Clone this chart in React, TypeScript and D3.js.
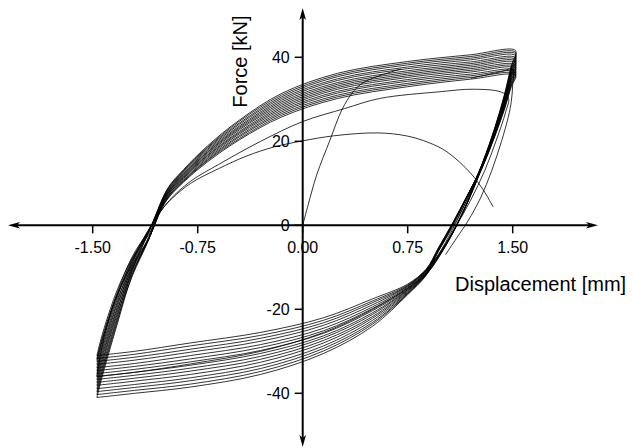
import React from "react";
import * as d3 from "d3";

// ---- Data (displacement in mm, force in kN) ----
const X_TICKS = [-1.5, -0.75, 0, 0.75, 1.5];
const X_TICK_LABELS = ["-1.50", "-0.75", "0.00", "0.75", "1.50"];
const Y_TICKS = [-40, -20, 0, 20, 40];
const Y_TICK_LABELS = ["-40", "-20", "0", "20", "40"];

// loading (upper) branch displacement grid
const UX = [-1.47, -1.44, -1.39, -1.32, -1.22, -1.1, -0.97, -0.85, -0.68, -0.45, -0.15, 0.25, 0.75, 1.2, 1.52];
const UPPER = [
  [-31, -27, -21.5, -15, -8, -2.2, 6, 10.3, 15.1, 20.4, 25.8, 30.2, 33, 34.8, 35.7],
  [-31.7, -27.7, -22.2, -15.6, -7.6, -1.2, 6.2, 10.5, 15.4, 20.7, 26.2, 30.6, 33.4, 35.2, 36.1],
  [-32.4, -28.4, -22.8, -16.1, -9.5, -3.1, 6.4, 10.7, 15.6, 21.1, 26.6, 31, 33.8, 35.6, 36.5],
  [-33.1, -29.1, -23.5, -16.7, -8.1, -1.3, 6.5, 10.9, 15.9, 21.4, 27, 31.5, 34.3, 36, 36.9],
  [-33.9, -29.9, -24.3, -17.3, -10.1, -3.1, 6.7, 11.2, 16.2, 21.8, 27.4, 31.9, 34.7, 36.5, 37.4],
  [-34.6, -30.6, -24.9, -17.9, -8.7, -1.4, 6.9, 11.4, 16.5, 22.1, 27.8, 32.4, 35.2, 36.9, 37.8],
  [-35.3, -31.3, -25.6, -18.4, -10.6, -3.2, 7.1, 11.6, 16.7, 22.4, 28.2, 32.8, 35.6, 37.3, 38.2],
  [-36, -32, -26.3, -19, -9.3, -1.5, 7.3, 11.8, 17, 22.8, 28.6, 33.2, 36, 37.7, 38.7],
  [-36.7, -32.7, -26.9, -19.6, -11.2, -3.3, 7.4, 12, 17.3, 23.1, 29, 33.6, 36.4, 38.1, 39.1],
  [-37.4, -33.4, -27.6, -20.1, -9.9, -1.5, 7.6, 12.2, 17.5, 23.4, 29.4, 34, 36.8, 38.5, 39.5],
  [-38.1, -34.1, -28.2, -20.7, -11.7, -3.4, 7.8, 12.4, 17.8, 23.7, 29.8, 34.5, 37.3, 38.9, 39.9],
  [-38.9, -34.9, -29, -21.3, -10.5, -1.6, 8, 12.7, 18.1, 24.1, 30.2, 34.9, 37.7, 39.4, 40.4],
  [-39.6, -35.6, -29.7, -21.9, -12.3, -3.4, 8.2, 12.9, 18.4, 24.4, 30.6, 35.4, 38.2, 39.8, 40.8],
  [-40.3, -36.3, -30.3, -22.4, -11, -1.7, 8.3, 13.1, 18.6, 24.8, 31, 35.8, 38.6, 40.2, 41.2],
  [-41, -37, -31, -23, -12, -2.7, 8.5, 13.3, 18.9, 25.1, 31.4, 36.2, 39, 40.6, 41.6],
];

// unloading + reversed loading (lower) branch displacement grid
const LX = [1.52, 1.49, 1.44, 1.37, 1.28, 1.18, 1.07, 0.97, 0.88, 0.75, 0.5, 0.15, -0.3, -0.8, -1.2, -1.47];
const LOWER = [
  [35.7, 33, 27.5, 21, 13.5, 6.5, -0.5, -6, -10.5, -14, -17.5, -22, -25.5, -28, -30, -31],
  [36.1, 33.4, 27.7, 21.1, 13.6, 7.4, 0.5, -5.3, -10.6, -14.2, -18, -22.6, -26.2, -28.7, -30.7, -31.7],
  [36.5, 33.7, 28, 21.3, 13.6, 5.6, -1.6, -7, -10.7, -14.4, -18.4, -23.2, -26.9, -29.5, -31.4, -32.4],
  [36.9, 34.1, 28.2, 21.4, 13.7, 7.3, 0.4, -5.4, -10.8, -14.5, -18.9, -23.8, -27.6, -30.2, -32.1, -33.1],
  [37.4, 34.5, 28.5, 21.6, 13.8, 5.7, -1.7, -7.1, -10.9, -14.7, -19.4, -24.5, -28.4, -31, -32.9, -33.9],
  [37.8, 34.8, 28.8, 21.7, 13.9, 7.3, 0.3, -5.6, -11, -14.9, -19.8, -25.1, -29.1, -31.8, -33.6, -34.6],
  [38.2, 35.2, 29, 21.9, 13.9, 5.6, -1.8, -7.2, -11.1, -15.1, -20.3, -25.7, -29.8, -32.5, -34.3, -35.3],
  [38.7, 35.5, 29.3, 22, 14, 7.2, 0.2, -5.7, -11.3, -15.3, -20.8, -26.3, -30.5, -33.3, -35, -36],
  [39.1, 35.9, 29.5, 22.1, 14.1, 5.7, -1.9, -7.4, -11.4, -15.4, -21.2, -26.8, -31.2, -34, -35.7, -36.7],
  [39.5, 36.2, 29.7, 22.3, 14.1, 7.2, 0.1, -5.8, -11.5, -15.6, -21.7, -27.4, -31.9, -34.7, -36.4, -37.4],
  [39.9, 36.6, 30, 22.4, 14.2, 5.8, -2, -7.5, -11.6, -15.8, -22.1, -28, -32.6, -35.5, -37.1, -38.1],
  [40.4, 37, 30.3, 22.6, 14.3, 7.1, 0, -6, -11.7, -16, -22.6, -28.7, -33.4, -36.3, -37.9, -38.9],
  [40.8, 37.3, 30.5, 22.7, 14.4, 5.8, -2, -7.7, -11.8, -16.2, -23.1, -29.3, -34.1, -37, -38.6, -39.6],
  [41.2, 37.7, 30.8, 22.9, 14.4, 7.1, -0.1, -6.2, -11.9, -16.3, -23.5, -29.9, -34.8, -37.8, -39.3, -40.3],
  [41.6, 38, 31, 23, 14.5, 6.5, -1, -7, -12, -16.5, -24, -30.5, -35.5, -38.5, -40, -41],
];

// initial (virgin) loading curve
const INIT_D = [0, 0.04, 0.1, 0.195, 0.28, 0.36, 0.43, 0.53, 0.7];
const INIT_F = [0, 5, 12, 20.3, 27.5, 31.8, 33.9, 35.4, 37.2];

// degraded cycle (upper branch near 31 kN)
const DEG_D = [-1.47, -1.42, -1.34, -1.22, -1.08, -0.95, -0.8, -0.6, -0.3, 0, 0.3, 0.55, 0.98, 1.22, 1.42, 1.47, 1.45, 1.38, 1.3, 1.2, 1.1, 1.0, 0.9, 0.75, 0.5, 0.15, -0.3, -0.8, -1.2, -1.47];
const DEG_F = [-32, -26, -18, -9, 0, 6, 10.5, 14.5, 20, 24.7, 27.8, 30.2, 31.8, 32.4, 31.7, 30.3, 27, 20, 13, 6, 0, -6, -11, -15, -20, -25.5, -30, -33, -35, -36];

// final cycle (strength drop, ends near 4 kN)
const FIN_D = [-1.47, -1.44, -1.39, -1.32, -1.22, -1.1, -1.0, -0.93, -0.8, -0.6, -0.4, -0.2, 0, 0.22, 0.53, 0.74, 0.9, 1.03, 1.2, 1.29, 1.36];
const FIN_F = [-36, -30, -23, -16, -8.5, -1, 4, 6.5, 10, 13.5, 16.5, 18.7, 20.1, 21.3, 22, 21.3, 19.7, 17.5, 12.4, 8.4, 4.4];

// separate unloading trace at the right edge
const EDGE_D = [1.2, 1.42, 1.5, 1.5, 1.49, 1.47, 1.42, 1.35, 1.27, 1.18, 1.1, 1.02];
const EDGE_F = [35.0, 36.6, 37.2, 33.5, 29.5, 26, 20, 13, 6.5, 1, -3, -7];

const W = 633;
const H = 448;

export default function App() {
  const x = d3.scaleLinear().domain([-1.5, 1.5]).range([92.7, 512.7]);
  const y = d3.scaleLinear().domain([-40, 40]).range([393.3, 57.3]);
  const x0 = x(0);
  const y0 = y(0);

  const line = d3
    .line<[number, number]>()
    .x((p) => x(p[0]))
    .y((p) => y(p[1]))
    .curve(d3.curveCatmullRom.alpha(0.5));

  const cycles: string[] = UPPER.map((up, k) => {
    const pts: [number, number][] = UX.map((d, i) => [d, up[i]] as [number, number]);
    LX.forEach((d, i) => {
      if (i > 0) pts.push([d, LOWER[k][i]]);
    });
    return line(pts) || "";
  });

  const zipPts = (ds: number[], fs: number[]) => ds.map((d, i) => [d, fs[i]] as [number, number]);

  const font = "'Liberation Sans', Arial, Helvetica, sans-serif";
  const stroke = "#000";

  const xL = 8, xR = 598, yT = 8, yB = 447;
  const ah = 12, aw = 3.3;

  return (
    <svg
      width={W}
      height={H}
      style={{ position: "absolute", left: 0, top: 0, background: "#fff" }}
      fontFamily={font}
    >
      <rect x={0} y={0} width={W} height={H} fill="#fff" />
      <g fill="none" stroke={stroke} strokeWidth={0.8}>
        {cycles.map((p, i) => (
          <path key={i} d={p} />
        ))}
        <path d={line(zipPts(INIT_D, INIT_F)) || ""} />
        <path d={line(zipPts(DEG_D, DEG_F)) || ""} />
        <path d={line(zipPts(FIN_D, FIN_F)) || ""} />
        <path d={line(zipPts(EDGE_D, EDGE_F)) || ""} />
      </g>

      {/* tick labels */}
      <g fontSize={16} fill="#000">
        {X_TICKS.map((t, i) => (
          <text key={"xl" + i} x={x(t)} y={y0 + 28} textAnchor="middle">
            {X_TICK_LABELS[i]}
          </text>
        ))}
        {Y_TICKS.map((t, i) => (
          <text key={"yl" + i} x={x0 - 13} y={y(t) + 5.7} textAnchor="end">
            {Y_TICK_LABELS[i]}
          </text>
        ))}
      </g>

      {/* axes */}
      <g stroke="#000" strokeWidth={2}>
        <line x1={xL + 6} y1={y0} x2={xR - 6} y2={y0} />
        <line x1={x0} y1={yT + 6} x2={x0} y2={yB - 6} />
      </g>
      <g stroke="#000" strokeWidth={1.5}>
        {X_TICKS.map((t, i) => (
          <line key={"xt" + i} x1={x(t)} y1={y0} x2={x(t)} y2={y0 + 8} />
        ))}
        {Y_TICKS.map((t, i) => (
          <line key={"yt" + i} x1={x0 - 8} y1={y(t)} x2={x0} y2={y(t)} />
        ))}
      </g>
      <g fill="#000">
        <path d={`M${xL},${y0} L${xL + ah},${y0 - aw} L${xL + ah - 3},${y0} L${xL + ah},${y0 + aw} Z`} />
        <path d={`M${xR},${y0} L${xR - ah},${y0 - aw} L${xR - ah + 3},${y0} L${xR - ah},${y0 + aw} Z`} />
        <path d={`M${x0},${yT} L${x0 - aw},${yT + ah} L${x0},${yT + ah - 3} L${x0 + aw},${yT + ah} Z`} />
        <path d={`M${x0},${yB} L${x0 - aw},${yB - ah} L${x0},${yB - ah + 3} L${x0 + aw},${yB - ah} Z`} />
      </g>

      {/* axis titles */}
      <text x={455} y={291} fontSize={20} fill="#000">
        Displacement [mm]
      </text>
      <text transform="translate(246.5,61.5) rotate(-90)" fontSize={20} fill="#000" textAnchor="middle">
        Force [kN]
      </text>
    </svg>
  );
}
